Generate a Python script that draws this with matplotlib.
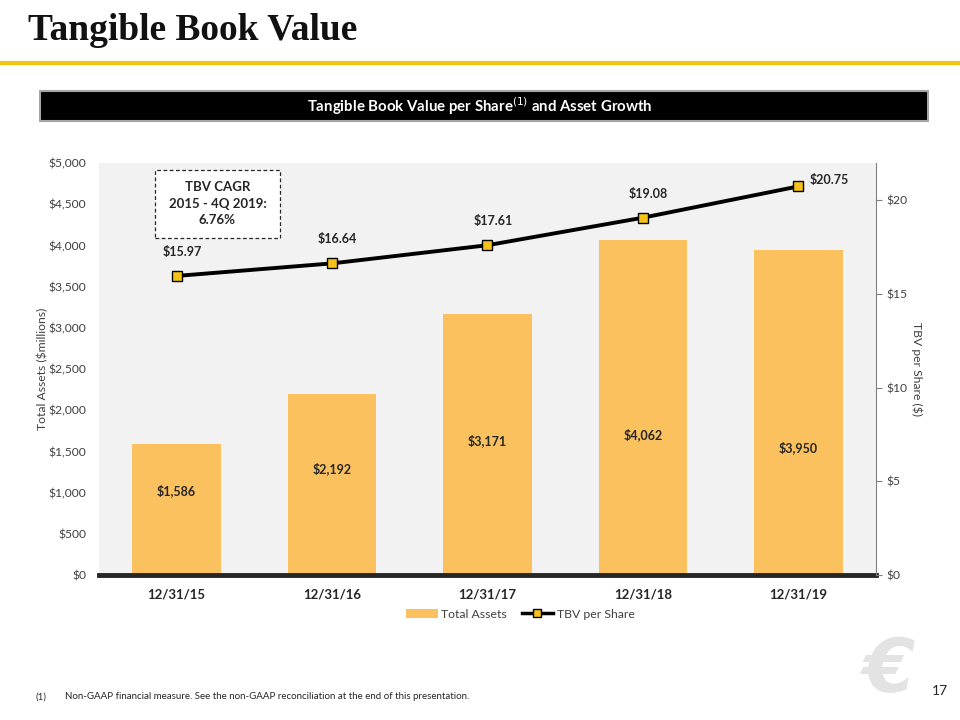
import matplotlib
matplotlib.use("Agg")
import matplotlib.pyplot as plt
from matplotlib.patches import Rectangle, Patch
from matplotlib.lines import Line2D
from matplotlib.ticker import FuncFormatter, MultipleLocator

plt.rcParams["font.family"] = ["Lato", "DejaVu Sans"]

# --- data ---
periods = ["12/31/15", "12/31/16", "12/31/17", "12/31/18", "12/31/19"]
total_assets = [1586, 2192, 3171, 4062, 3950]      # $ millions
tbv_per_share = [15.97, 16.64, 17.61, 19.08, 20.75]
asset_label_y = [1020, 1290, 1625, 1700, 1540]     # where Excel left the bar labels

BAR_C = "#FBC15E"
MARK_C = "#F5C21B"
TXT = "#262626"

fig = plt.figure(figsize=(9.6, 7.2), dpi=100)

# page header
fig.text(0.029, 0.958, "Tangible Book Value", family=["Liberation Serif"], fontweight="bold",
         fontsize=27, va="center", ha="left", color="#111111")
fig.add_artist(Line2D([0, 1], [0.912, 0.912], color="#F2C318", lw=3, transform=fig.transFigure))
fig.add_artist(Rectangle((0.042, 0.832), 0.925, 0.042, transform=fig.transFigure,
                         facecolor="black", edgecolor="#A6A6A6", lw=1.5))
fig.text(0.5, 0.852, "Tangible Book Value per Share$^{(1)}$ and Asset Growth", color="white",
         fontweight="bold", fontsize=10.8, ha="center", va="center")

# chart
ax = fig.add_axes([0.1031, 0.2014, 0.8094, 0.5722])
ax.set_facecolor("#F2F2F2")
x = list(range(len(periods)))
ax.bar(x, total_assets, width=0.57, color=BAR_C, zorder=2)
ax.set_xlim(-0.5, len(periods) - 0.5)
ax.set_ylim(0, 5000)
ax.yaxis.set_major_locator(MultipleLocator(500))
ax.yaxis.set_major_formatter(FuncFormatter(lambda v, p: f"${v:,.0f}"))
ax.set_xticks(x)
ax.set_xticklabels(periods, fontweight="bold", fontsize=9.5, color=TXT)
ax.tick_params(axis="y", length=0, labelsize=8.7, labelcolor="#404040", pad=9)
ax.tick_params(axis="x", length=0, pad=10)
for s in ["top", "left", "right"]:
    ax.spines[s].set_visible(False)
ax.spines["bottom"].set_linewidth(3.5)
ax.spines["bottom"].set_color(TXT)
ax.spines["bottom"].set_zorder(5)
ax.set_ylabel("Total Assets ($millions)", fontsize=8.7, color="#404040", labelpad=0)
for xi, v, ly in zip(x, total_assets, asset_label_y):
    ax.text(xi, ly, f"${v:,}", ha="center", va="center", fontsize=9, fontweight="bold",
            color=TXT, zorder=3)

ax2 = ax.twinx()
ax2.plot(x, tbv_per_share, color="black", lw=2.8, marker="s", markersize=7,
         markerfacecolor=MARK_C, markeredgecolor="black", markeredgewidth=1, zorder=4)
ax2.set_ylim(0, 22)
ax2.yaxis.set_major_locator(MultipleLocator(5))
ax2.yaxis.set_major_formatter(FuncFormatter(lambda v, p: f"${v:,.0f}"))
ax2.tick_params(axis="y", length=4, color="#808080", labelsize=8.7, labelcolor="#404040")
for s in ["top", "left", "bottom"]:
    ax2.spines[s].set_visible(False)
ax2.spines["right"].set_color("#808080")
ax2.set_ylabel("TBV per Share ($)", fontsize=8.7, color="#404040", rotation=270, labelpad=11)
for xi, v in zip(x[:-1], tbv_per_share[:-1]):
    ax2.annotate(f"${v:.2f}", (xi, v), xytext=(4, 13), textcoords="offset points",
                 ha="center", va="bottom", fontsize=9, fontweight="bold", color=TXT)
ax2.annotate(f"${tbv_per_share[-1]:.2f}", (x[-1], tbv_per_share[-1]), xytext=(8, 0),
             textcoords="offset points", ha="left", va="bottom", fontsize=9,
             fontweight="bold", color=TXT)

# CAGR callout
fig.add_artist(Rectangle((0.1615, 0.670), 0.130, 0.094, transform=fig.transFigure,
                         facecolor="white", edgecolor="#262626", lw=0.9, ls=(0, (3, 2))))
fig.text(0.2265, 0.717, "TBV CAGR\n2015 - 4Q 2019:\n6.76%", ha="center", va="center",
         fontsize=9.5, fontweight="bold", color=TXT, linespacing=1.45)

# legend
handles = [Patch(facecolor=BAR_C, label="Total Assets"),
           Line2D([], [], color="black", lw=2.5, marker="s", markersize=6,
                  markerfacecolor=MARK_C, markeredgecolor="black", label="TBV per Share")]
fig.legend(handles=handles, loc="center", bbox_to_anchor=(0.542, 0.147), ncol=2,
           frameon=False, fontsize=8.8, handlelength=2.6, columnspacing=1.2, handletextpad=0.3,
           labelcolor="#404040")

# footer
fig.text(0.037, 0.032, "(1)", fontsize=7, color=TXT, va="center")
fig.text(0.068, 0.032, "Non-GAAP financial measure. See the non-GAAP reconciliation at the end of this presentation.",
         fontsize=7, color=TXT, va="center")
fig.text(0.925, 0.068, "\u20ac", fontsize=54, color="#E3E3E3", ha="center", va="center",
         fontstyle="italic", fontweight="bold", family=["DejaVu Sans"])
fig.text(0.988, 0.04, "17", fontsize=10, color=TXT, ha="right", va="center")

fig.savefig("out.png", dpi=100)
